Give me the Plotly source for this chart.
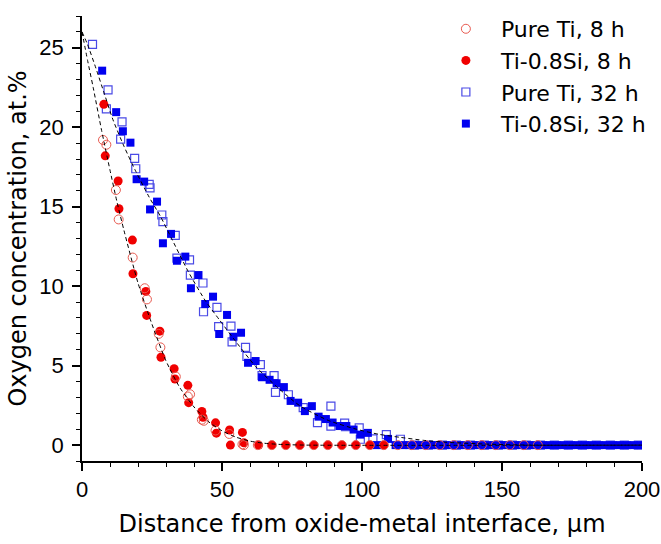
import plotly.graph_objects as go

# ---------------- data ----------------
pure8_x = [7.5, 8.7, 12.1, 13.1, 18.1, 22.4, 23.2, 27.4, 28.0, 33.5, 37.8, 38.6, 42.8, 43.5,
           47.7, 52.6, 57.3, 57.8,
           62.8, 67.8, 72.8, 77.8, 82.8, 87.8, 92.8, 97.8, 102.8, 107.8, 112.8, 117.8,
           122.8, 127.8, 132.8, 137.8, 142.8, 147.8, 152.8, 157.8, 162.8]
pure8_y = [19.2, 18.9, 16.05, 14.2, 11.8, 9.87, 9.17, 7.0, 6.15, 4.31, 3.06, 3.2, 1.6, 1.53,
           0.92, 0.7, 0.05, 0.0,
           0, 0, 0, 0, 0, 0, 0, 0, 0, 0, 0, 0,
           0, 0, 0, 0, 0, 0, 0, 0, 0]

si8_x = [7.8, 8.3, 12.9, 13.2, 18.0, 18.2, 22.8, 23.1, 27.8, 28.2, 32.9, 33.2, 37.8, 38.1,
         42.8, 43.2, 47.7, 48.0, 52.7, 53.0, 57.3, 57.8,
         63.1, 67.8, 72.8, 77.8, 82.8, 87.8, 92.8, 97.8, 102.8, 107.8]
si8_y = [21.44, 18.2, 16.62, 14.87, 12.9, 10.78, 9.67, 8.16, 7.17, 5.53, 4.81, 4.16, 3.76, 2.67,
         2.12, 1.75, 1.4, 0.75, 0.95, 0.0, 0.8, 0.15,
         0, 0, 0, 0, 0, 0, 0, 0, 0, 0]

pure32_x = [3.75, 9.3, 8.7, 14.3, 13.8, 18.8, 19.2, 24.0, 24.3, 28.5, 28.9, 33.3, 33.9, 38.4,
            38.7, 43.2, 43.4, 48.2, 48.8, 53.2, 53.6, 58.4, 58.9, 63.7, 64.3, 68.6, 69.1,
            73.7, 79.0, 84.1, 88.9, 88.9, 93.8, 94.1, 99.0, 99.4, 103.9, 108.7, 113.7,
            118.7, 123.7, 128.7, 133.7, 138.7, 143.7, 148.7, 153.7, 158.7, 163.7, 168.7,
            173.7, 178.7, 183.7, 188.7, 193.7, 198.7]
pure32_y = [25.22, 22.35, 21.15, 20.34, 19.25, 18.04, 17.39, 16.4, 16.19, 14.48, 14.06, 13.2,
            11.76, 11.65, 10.7, 10.2, 8.39, 8.67, 7.45, 7.49, 6.5, 6.15, 5.58, 5.07, 4.37,
            4.37, 3.32, 3.17, 2.36, 1.42, 2.45, 1.2, 1.38, 1.16, 1.09, 0.37, 0.39, 0.66, 0.37,
            0, 0, 0, 0, 0, 0, 0, 0, 0, 0, 0,
            0, 0, 0, 0, 0, 0]

si32_x = [7.2, 12.2, 14.6, 17.3, 19.5, 22.2, 24.3, 26.8, 28.9, 31.8, 33.9, 36.9, 38.9, 41.6,
          44.0, 46.8, 49.0, 51.8, 54.1, 56.8, 59.3, 62.0, 64.3, 67.0, 69.5, 72.1, 74.5,
          77.2, 79.6, 82.1, 84.5, 87.1, 89.5, 92.0, 94.4, 97.0, 99.4, 102.1, 104.4, 107.1,
          109.3, 112.0, 114.5, 117.0, 119.5, 122.0, 124.5, 127.0, 129.5, 132.0, 134.5,
          137.0, 139.5, 142.0, 144.5, 147.0, 149.5, 152.0, 154.5, 157.0, 159.5, 162.0,
          164.5, 167.0, 169.5, 172.0, 174.5, 177.0, 179.5, 182.0, 184.5, 187.0, 189.5,
          192.0, 194.5, 197.0, 199.5]
si32_y = [23.56, 20.95, 19.75, 19.03, 16.73, 16.58, 14.83, 15.32, 12.7, 13.29, 11.6, 11.86,
          9.87, 10.7, 8.88, 9.34, 6.99, 8.19, 6.82, 7.07, 5.18, 5.29, 4.27, 4.11, 3.89, 3.65,
          2.78, 2.67, 2.14, 2.45, 1.79, 1.64, 1.42, 1.2, 1.2, 0.98, 0.66, 0.77, 0.0, 0.0,
          0.39, 0, 0, 0, 0, 0, 0, 0, 0, 0, 0,
          0, 0, 0, 0, 0, 0, 0, 0, 0, 0, 0,
          0, 0, 0, 0, 0, 0, 0, 0, 0, 0, 0,
          0, 0, 0, 0]

# dashed fit curves
fit8_x = [0, 2, 4, 7, 10, 12.5, 15, 20, 25, 30, 35, 40, 45, 50, 55, 60, 65, 70, 80, 200]
fit8_y = [26, 24.2, 22.5, 19.8, 17.3, 15.3, 13.5, 10.2, 7.6, 5.3, 3.6, 2.4, 1.5, 0.9, 0.5,
          0.25, 0.12, 0.05, 0.0, 0.0]
fit32_x = [0, 2, 5, 8, 11, 15, 19, 24, 28, 32, 38, 44, 49, 55, 62, 70, 78, 88, 98, 106,
           114, 122, 130, 145, 160, 200]
fit32_y = [26, 25.2, 23.7, 22.1, 20.5, 18.8, 17.3, 15.6, 14.4, 13.0, 10.9, 9.1, 7.9, 6.5,
           4.95, 3.6, 2.45, 1.55, 1.0, 0.68, 0.48, 0.3, 0.18, 0.06, 0.0, 0.0]

names = ["Pure Ti, 8 h", "Ti-0.8Si, 8 h", "Pure Ti, 32 h", "Ti-0.8Si, 32 h"]

TICKFONT = "Liberation Sans, Arial, sans-serif"
WIDEFONT = "DejaVu Sans, Liberation Sans, sans-serif"

fig = go.Figure()

fig.add_trace(go.Scatter(
    x=pure32_x, y=pure32_y, mode="markers", name=names[2], legendrank=3,
    marker=dict(symbol="square-open", size=8, color="#4a4ae6", line=dict(width=1.2))))
fig.add_trace(go.Scatter(
    x=si32_x, y=si32_y, mode="markers", name=names[3], legendrank=4,
    marker=dict(symbol="square", size=8, color="#0000f0", line=dict(width=0))))
fig.add_trace(go.Scatter(
    x=si8_x, y=si8_y, mode="markers", name=names[1], legendrank=2,
    marker=dict(symbol="circle", size=9, color="#f00000", line=dict(width=0))))
fig.add_trace(go.Scatter(
    x=pure8_x, y=pure8_y, mode="markers", name=names[0], legendrank=1,
    marker=dict(symbol="circle-open", size=9, color="#e85a50", line=dict(width=1))))

for fx, fy in ((fit8_x, fit8_y), (fit32_x, fit32_y)):
    fig.add_trace(go.Scatter(
        x=fx, y=fy, mode="lines", showlegend=False, hoverinfo="skip",
        line=dict(color="black", width=1, dash="4px,3px", shape="spline", smoothing=0.6)))

fig.update_layout(
    width=661, height=544,
    margin=dict(l=82, r=19, t=16, b=83, autoexpand=False),
    paper_bgcolor="white", plot_bgcolor="white",
    font=dict(family=TICKFONT, size=22, color="black"),
    legend=dict(x=0.623, y=1.018, xanchor="left", yanchor="top",
                bgcolor="rgba(0,0,0,0)", font=dict(family=WIDEFONT, size=22),
                itemwidth=60, traceorder="normal", tracegroupgap=0),
)

fig.update_xaxes(
    range=[0, 200], showgrid=False, zeroline=False,
    showline=True, linecolor="black", linewidth=1.5,
    ticks="outside", ticklen=8, tickwidth=1.5, tickcolor="black",
    tickvals=[0, 50, 100, 150, 200],
    tickfont=dict(family=TICKFONT, size=22),
    minor=dict(ticks="outside", ticklen=4, tickwidth=1.2, tickcolor="black", dtick=10, tick0=0),
    title=dict(text="Distance from oxide-metal interface, µm",
               font=dict(family=WIDEFONT, size=24), standoff=14),
)
fig.update_yaxes(
    range=[-1, 27], showgrid=False, zeroline=False,
    showline=True, linecolor="black", linewidth=1.5,
    ticks="outside", ticklen=8, tickwidth=1.5, tickcolor="black",
    tickvals=[0, 5, 10, 15, 20, 25],
    tickfont=dict(family=TICKFONT, size=22), ticklabelstandoff=4,
    minor=dict(ticks="outside", ticklen=4, tickwidth=1.2, tickcolor="black", dtick=1, tick0=0),
    title=dict(text="Oxygen concentration, at.%",
               font=dict(family=WIDEFONT, size=24), standoff=6),
)

fig.write_html("out.html")
